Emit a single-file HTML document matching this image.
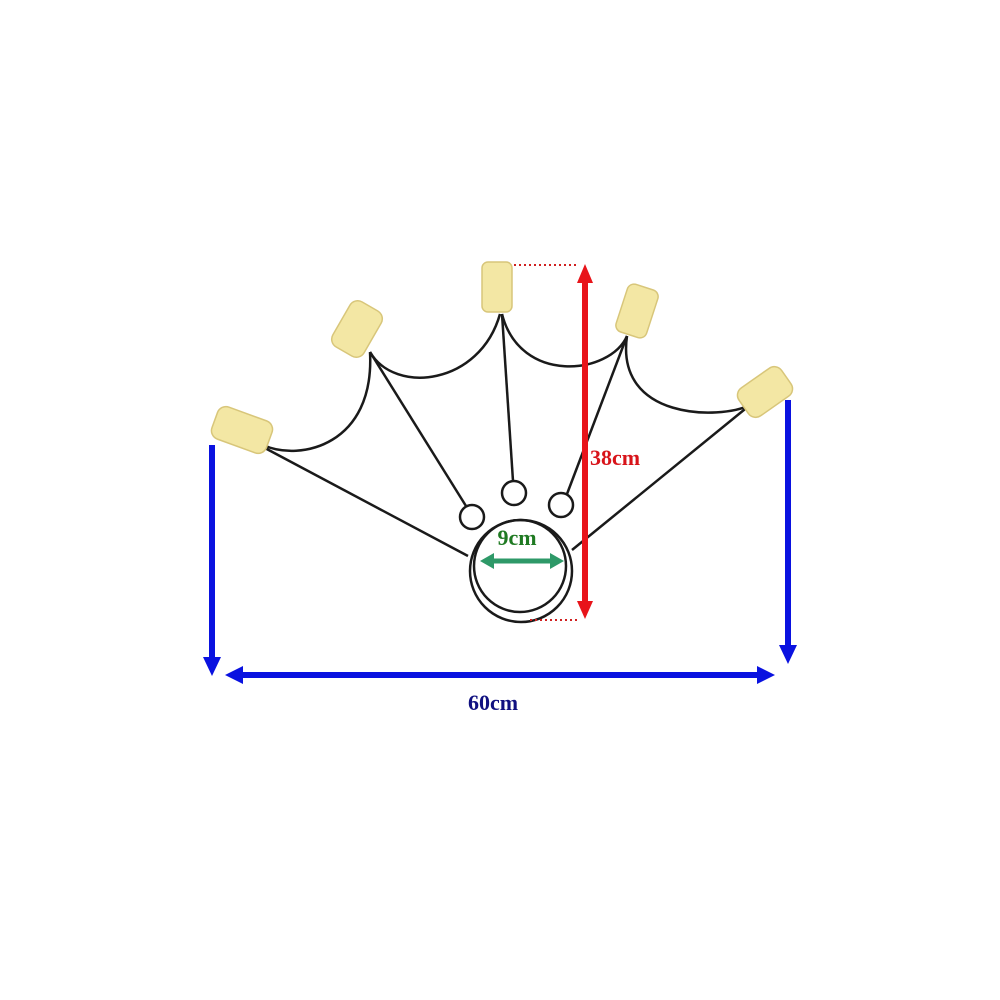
<!DOCTYPE html>
<html><head><style>body{margin:0;background:#fff}svg{display:block}</style></head><body>
<svg width="1000" height="1000" viewBox="0 0 1000 1000" xmlns="http://www.w3.org/2000/svg">
<g fill="none" stroke="#1a1a1a" stroke-width="2.5">
<path d="M263,445 C300,462 375,445 370,352"/>
<path d="M370,352 C395,395 480,385 500,314"/>
<path d="M502,314 C520,385 610,375 627,336"/>
<path d="M627,336 C615,420 720,420 750,405"/>
<path d="M263,447 L468,556"/>
<path d="M370,352 L466,506"/>
<path d="M502,314 L513,481"/>
<path d="M627,336 L567,494"/>
<path d="M750,405 L572,550"/>
<circle cx="520" cy="566" r="46"/>
<circle cx="521" cy="571" r="51"/>
<circle cx="472" cy="517" r="12"/>
<circle cx="514" cy="493" r="12"/>
<circle cx="561" cy="505" r="12"/>
</g>
<g fill="#f3e7a4" stroke="#d8c67a" stroke-width="1.5">
<rect x="-29" y="-17" width="58" height="34" rx="9" transform="translate(242,430) rotate(20)"/>
<rect x="-26" y="-18" width="52" height="36" rx="9" transform="translate(357,329) rotate(-60)"/>
<rect x="-15" y="-25" width="30" height="50" rx="6" transform="translate(497,287)"/>
<rect x="-16" y="-25" width="32" height="50" rx="7" transform="translate(637,311) rotate(18)"/>
<rect x="-26" y="-17" width="52" height="34" rx="9" transform="translate(765,392) rotate(-35)"/>
</g>
<g stroke="#d02020" stroke-width="2" stroke-dasharray="2,3">
<line x1="514" y1="265" x2="578" y2="265"/>
<line x1="530" y1="620" x2="578" y2="620"/>
</g>
<line x1="585" y1="282" x2="585" y2="602" stroke="#e8141a" stroke-width="6"/>
<polygon points="577,283 593,283 585,264" fill="#e8141a"/>
<polygon points="577,601 593,601 585,619" fill="#e8141a"/>
<line x1="492" y1="561" x2="552" y2="561" stroke="#2e9968" stroke-width="5"/>
<polygon points="494,553 494,569 480,561" fill="#2e9968"/>
<polygon points="550,553 550,569 564,561" fill="#2e9968"/>
<g fill="#0a12e0">
<rect x="209" y="445" width="6" height="215"/>
<polygon points="203,657 221,657 212,676"/>
<rect x="785" y="400" width="6" height="248"/>
<polygon points="779,645 797,645 788,664"/>
<rect x="240" y="672" width="520" height="6"/>
<polygon points="243,666 243,684 225,675"/>
<polygon points="757,666 757,684 775,675"/>
</g>
<g font-family="Liberation Serif, serif" font-weight="bold">
<text x="493" y="710" font-size="22" fill="#101080" text-anchor="middle">60cm</text>
<text x="590" y="465" font-size="22" fill="#d8141a">38cm</text>
<text x="517" y="545" font-size="22" fill="#1f7a22" text-anchor="middle">9cm</text>
</g>
</svg>
</body></html>
